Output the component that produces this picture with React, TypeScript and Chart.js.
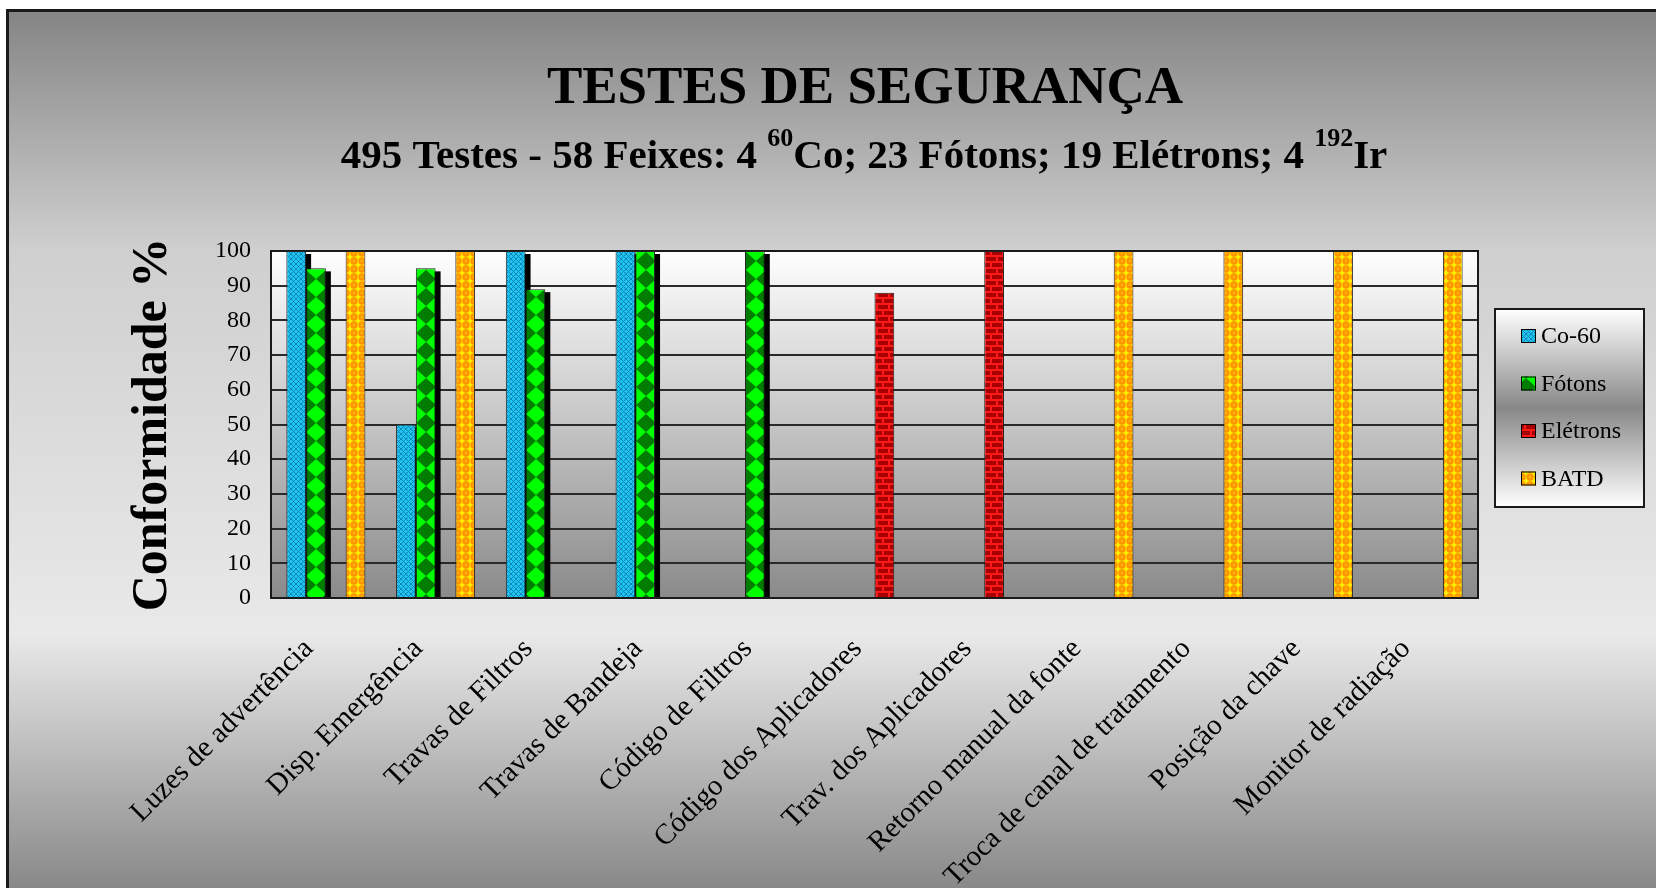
import React, { useEffect, useRef } from 'react';
import { Chart, registerables } from 'chart.js';

Chart.register(...registerables);

const categories = [
  'Luzes de advertência',
  'Disp. Emergência',
  'Travas de Filtros',
  'Travas de Bandeja',
  'Código de Filtros',
  'Código dos Aplicadores',
  'Trav. dos Aplicadores',
  'Retorno manual da fonte',
  'Troca de canal de tratamento',
  'Posição da chave',
  'Monitor de radiação',
];

const co60 = [100, 50, 100, 100, null, null, null, null, null, null, null];
const fotons = [95, 95, 89, 100, 100, null, null, null, null, null, null];
const eletrons = [null, null, null, null, null, 88, 100, null, null, null, null];
const batd = [100, 100, null, null, null, null, null, 100, 100, 100, 100];

const seriesNames = ['Co-60', 'Fótons', 'Elétrons', 'BATD'];
const patternKinds = ['co', 'fotons', 'eletrons', 'batd'];

const yMin = 0;
const yMax = 100;
const yStep = 10;

const titleText = 'TESTES DE SEGURANÇA';
const subtitleSegments: { t: string; sup: boolean }[] = [
  { t: '495 Testes - 58 Feixes: 4 ', sup: false },
  { t: '60', sup: true },
  { t: 'Co; 23 Fótons; 19 Elétrons; 4 ', sup: false },
  { t: '192', sup: true },
  { t: 'Ir', sup: false },
];
const yTitle = 'Conformidade %';

const SERIF = '"Liberation Serif", "Times New Roman", serif';

function makePattern(kind: string): CanvasPattern {
  const c = document.createElement('canvas');
  if (kind === 'co') {
    c.width = 5; c.height = 5;
    const g = c.getContext('2d')!;
    g.fillStyle = '#22c4f0';
    g.fillRect(0, 0, 5, 5);
    g.strokeStyle = '#0a86b8';
    g.lineWidth = 1;
    g.beginPath();
    g.moveTo(0, 0); g.lineTo(5, 5);
    g.moveTo(5, 0); g.lineTo(0, 5);
    g.stroke();
    return g.createPattern(c, 'repeat')!;
  }
  if (kind === 'fotons') {
    c.width = 20; c.height = 18;
    const g = c.getContext('2d')!;
    g.fillStyle = '#007c00';
    g.fillRect(0, 0, 20, 18);
    g.fillStyle = '#00ff00';
    g.beginPath();
    g.moveTo(10, 0); g.lineTo(20, 9); g.lineTo(10, 18); g.lineTo(0, 9);
    g.closePath();
    g.fill();
    return g.createPattern(c, 'repeat')!;
  }
  if (kind === 'eletrons') {
    c.width = 12; c.height = 12;
    const g = c.getContext('2d')!;
    g.fillStyle = '#a80000';
    g.fillRect(0, 0, 12, 12);
    g.fillStyle = '#ff1a1a';
    g.fillRect(0, 0, 12, 2);
    g.fillRect(0, 6, 12, 2);
    g.fillRect(0, 0, 2, 6);
    g.fillRect(6, 6, 2, 6);
    return g.createPattern(c, 'repeat')!;
  }
  c.width = 8; c.height = 8;
  const g = c.getContext('2d')!;
  g.fillStyle = '#ffee00';
  g.fillRect(0, 0, 8, 8);
  g.fillStyle = '#ff9400';
  g.beginPath();
  g.arc(4, 4, 3.7, 0, Math.PI * 2);
  g.fill();
  g.fillStyle = '#ffb400';
  g.beginPath();
  g.arc(4, 4, 1.4, 0, Math.PI * 2);
  g.fill();
  return g.createPattern(c, 'repeat')!;
}

const decorPlugin = {
  id: 'decor',
  beforeDraw(chart: any) {
    const { ctx, width, height, chartArea: ca } = chart;
    ctx.save();
    const bg = ctx.createLinearGradient(0, 0, 0, height);
    bg.addColorStop(0, '#848484');
    bg.addColorStop(240 / height, '#cfcfcf');
    bg.addColorStop(625 / height, '#e9e9e9');
    bg.addColorStop(1, '#848484');
    ctx.fillStyle = bg;
    ctx.fillRect(0, 0, width, height);
    ctx.strokeStyle = '#1a1a1a';
    ctx.lineWidth = 3;
    ctx.strokeRect(1.5, 1.5, width, height);
    const pg = ctx.createLinearGradient(0, ca.top, 0, ca.bottom);
    pg.addColorStop(0, '#ffffff');
    pg.addColorStop(1, '#8a8a8a');
    ctx.fillStyle = pg;
    ctx.fillRect(ca.left, ca.top, ca.right - ca.left, ca.bottom - ca.top);
    ctx.restore();
  },
  beforeDatasetsDraw(chart: any) {
    const { ctx, chartArea: ca } = chart;
    ctx.save();
    ctx.beginPath();
    ctx.rect(ca.left, ca.top, ca.right - ca.left, ca.bottom - ca.top);
    ctx.clip();
    ctx.fillStyle = '#000';
    [0, 1].forEach((di) => {
      const meta = chart.getDatasetMeta(di);
      meta.data.forEach((el: any, i: number) => {
        const v = chart.data.datasets[di].data[i];
        if (v == null) return;
        const p = el.getProps(['x', 'y', 'base', 'width'], true);
        ctx.fillRect(p.x - p.width / 2 + 5, p.y + 3, p.width, p.base - p.y);
      });
    });
    ctx.restore();
    ctx.save();
    ctx.strokeStyle = '#1a1a1a';
    ctx.lineWidth = 2;
    ctx.strokeRect(ca.left, ca.top, ca.right - ca.left, ca.bottom - ca.top);
    ctx.restore();
  },
  afterDraw(chart: any) {
    const { ctx } = chart;
    ctx.save();
    ctx.fillStyle = '#000';
    ctx.textBaseline = 'alphabetic';
    // Main title
    ctx.font = `bold 53px ${SERIF}`;
    ctx.textAlign = 'center';
    ctx.fillText(titleText, 859, 94);
    // Subtitle with superscripts
    ctx.textAlign = 'left';
    const mainFont = `bold 41px ${SERIF}`;
    const supFont = `bold 26px ${SERIF}`;
    let total = 0;
    subtitleSegments.forEach((s) => {
      ctx.font = s.sup ? supFont : mainFont;
      total += ctx.measureText(s.t).width;
    });
    let x = 858 - total / 2;
    subtitleSegments.forEach((s) => {
      ctx.font = s.sup ? supFont : mainFont;
      ctx.fillText(s.t, x, s.sup ? 137 : 159);
      x += ctx.measureText(s.t).width;
    });
    // Legend
    const lx = 1489, ly = 300, lw = 149, lh = 198;
    const lg = ctx.createLinearGradient(0, ly, 0, ly + lh);
    lg.addColorStop(0, '#ffffff');
    lg.addColorStop(0.5, '#888888');
    lg.addColorStop(1, '#ffffff');
    ctx.fillStyle = lg;
    ctx.fillRect(lx, ly, lw, lh);
    ctx.strokeStyle = '#1a1a1a';
    ctx.lineWidth = 2;
    ctx.strokeRect(lx, ly, lw, lh);
    ctx.font = `24px ${SERIF}`;
    ctx.textBaseline = 'middle';
    chart.data.datasets.forEach((ds: any, i: number) => {
      const cy = 327 + i * 47.5;
      ctx.fillStyle = ds.backgroundColor;
      ctx.fillRect(1515, cy - 7, 15, 14);
      ctx.strokeStyle = '#000';
      ctx.lineWidth = 1;
      ctx.strokeRect(1515.5, cy - 6.5, 14, 13);
      ctx.fillStyle = '#000';
      ctx.fillText(ds.label, 1535, cy + 1);
    });
    ctx.restore();
  },
};

export default function App() {
  const ref = useRef<HTMLCanvasElement | null>(null);
  useEffect(() => {
    if (!ref.current) return;
    const seriesData = [co60, fotons, eletrons, batd];
    const chart = new Chart(ref.current, {
      type: 'bar',
      data: {
        labels: categories,
        datasets: seriesNames.map((name, i) => ({
          label: name,
          data: seriesData[i] as any,
          backgroundColor: makePattern(patternKinds[i]) as any,
          borderColor: '#222',
          borderWidth: 1,
          categoryPercentage: 0.72,
          barPercentage: 1.0,
        })),
      },
      options: {
        responsive: false,
        animation: false,
        events: [],
        layout: { padding: { top: 242, right: 246, bottom: 1, left: 0 } },
        plugins: {
          legend: { display: false },
          title: { display: false },
          tooltip: { enabled: false },
        },
        scales: {
          x: {
            grid: { display: false, drawTicks: false },
            border: { display: false },
            ticks: {
              autoSkip: false,
              maxRotation: 45,
              minRotation: 45,
              color: '#000',
              padding: 34,
              labelOffset: -17,
              font: { family: SERIF, size: 29 },
            },
            afterFit: (scale: any) => { scale.height = 300; },
          },
          y: {
            min: yMin,
            max: yMax,
            ticks: {
              stepSize: yStep,
              color: '#000',
              padding: 20,
              font: { family: SERIF, size: 24 },
            },
            grid: { color: '#2a2a2a', lineWidth: 2, drawTicks: false },
            border: { display: true, color: '#1a1a1a', width: 2 },
            title: {
              display: true,
              text: yTitle,
              color: '#000',
              font: { family: SERIF, size: 50, weight: 'bold' },
              padding: { top: 117, bottom: 0 },
            },
            afterFit: (scale: any) => { scale.width = 265; },
          },
        },
      },
      plugins: [decorPlugin],
    });
    return () => chart.destroy();
  }, []);
  return (
    <div style={{ position: 'fixed', left: 0, top: 0, width: 1656, height: 888, overflow: 'hidden', background: '#fff' }}>
      <div style={{ position: 'absolute', left: 6, top: 9, width: 1718, height: 890 }}>
        <canvas ref={ref} width={1718} height={890} style={{ display: 'block' }} />
      </div>
    </div>
  );
}
